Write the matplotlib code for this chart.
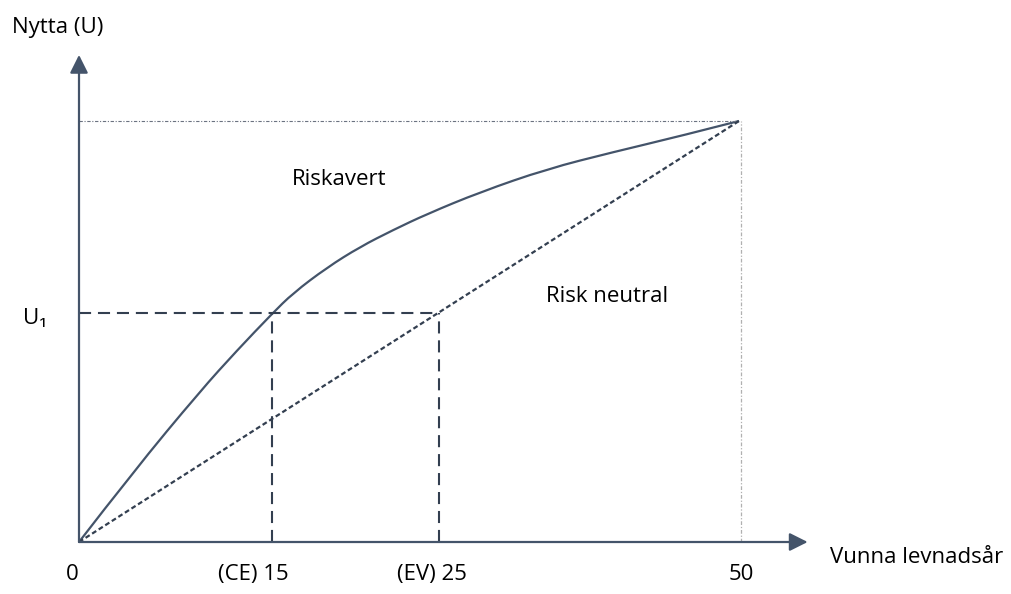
#!/usr/bin/env python3
"""Utility curve sketch: risk-averse vs risk-neutral (schematic)."""

import matplotlib
matplotlib.use("Agg")
import matplotlib.pyplot as plt
from matplotlib.path import Path
from matplotlib.patches import PathPatch

# Riskavert utility curve (x = years, y = utility 0..1)
averse_x = [0, 4.09, 9.17, 12.0, 14.62, 16.21, 18.79, 21.29, 23.79, 26.36, 30.38, 35.45, 40.45, 45.53, 50]
averse_y = [0, 0.166, 0.358, 0.456, 0.542, 0.591, 0.652, 0.701, 0.741, 0.779, 0.831, 0.886, 0.926, 0.964, 1.0]

# Risk neutral line
neutral_x = [0, 50]
neutral_y = [0, 1.0]

# Key points (schematic positions) and their labels
ce_x = 14.62
ev_x = 27.3
max_x = 50
u1 = 0.545
u_max = 1.0
tick_pos = [-0.53, 13.2, 26.7, 50.2]
tick_labels = ["0", "(CE) 15", "(EV) 25", "50"]

axis_col = "#44546A"
dash_col = "#333F50"

plt.rcParams["font.family"] = ["Open Sans", "DejaVu Sans"]

fig = plt.figure(figsize=(10.12, 5.94), dpi=100)
ax = fig.add_axes([0, 0, 1, 1])
ax.set_xlim(-5.985, 70.68)
ax.set_ylim(-0.1235, 1.2874)
ax.axis("off")

# axes with arrow heads
arrow = dict(arrowstyle="-|>,head_length=1.0,head_width=0.5", mutation_scale=11,
             lw=1.6, color=axis_col, shrinkA=0, shrinkB=0)
ax.annotate("", xy=(55.2, 0), xytext=(0, 0), arrowprops=arrow)
ax.annotate("", xy=(0, 1.157), xytext=(0, 0), arrowprops=arrow)

# thin guides to the top corner
ax.plot([0, max_x], [u_max, u_max], color="#6b7280", lw=0.8, ls=(0, (3, 1.5, 1, 1.5)))
ax.plot([max_x + 0.15, max_x + 0.15], [0, u_max], color="#b0b0b0", lw=0.9, ls=(0, (3, 1.5, 1, 1.5)))

# risk averse curve: smooth quadratic spline through the read points
pts = list(zip(averse_x, averse_y))
verts = [pts[0]]
codes = [Path.MOVETO]
for i in range(1, len(pts) - 1):
    nxt = pts[i + 1] if i == len(pts) - 2 else ((pts[i][0] + pts[i + 1][0]) / 2, (pts[i][1] + pts[i + 1][1]) / 2)
    verts += [pts[i], nxt]
    codes += [Path.CURVE3, Path.CURVE3]
ax.add_patch(PathPatch(Path(verts, codes), fill=False, edgecolor=axis_col, lw=1.6))

ax.plot(neutral_x, neutral_y, color=dash_col, lw=1.6, ls=(0, (2.2, 1.3)))

# U1 / CE / EV dashed guides
long_dash = (0, (5.8, 3.3))
ax.plot([0, ev_x], [u1, u1], color=dash_col, lw=1.5, ls=long_dash)
ax.plot([ce_x, ce_x], [0, u1], color=dash_col, lw=1.5, ls=long_dash)
ax.plot([ev_x, ev_x], [0, u1], color=dash_col, lw=1.5, ls=long_dash)

fs = 16
for xp, lab in zip(tick_pos, tick_labels):
    ax.text(xp, -0.078, lab, ha="center", va="center", fontsize=fs, color="black")

ax.text(-5.08, 1.221, "Nytta (U)", ha="left", va="center", fontsize=fs)
ax.text(-4.24, 0.532, "U\u2081", ha="left", va="center", fontsize=fs)
ax.text(16.14, 0.862, "Riskavert", ha="left", va="center", fontsize=fs)
ax.text(35.38, 0.582, "Risk neutral", ha="left", va="center", fontsize=fs)
ax.text(56.9, -0.036, "Vunna levnadsår", ha="left", va="center", fontsize=fs)

fig.savefig("out.png", dpi=100)
plt.close(fig)
